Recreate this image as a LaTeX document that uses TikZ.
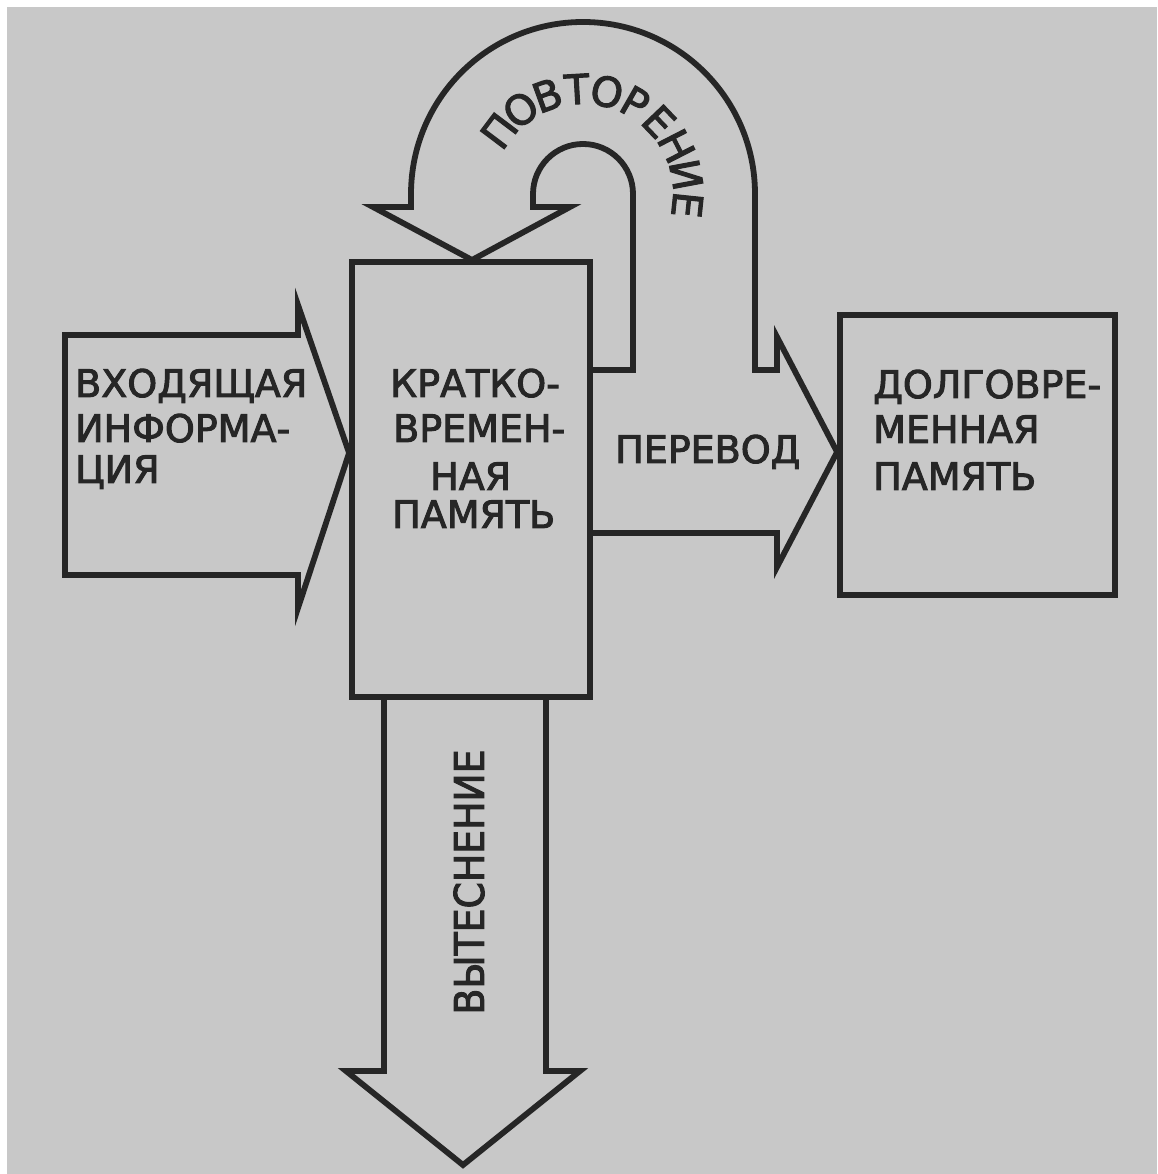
\documentclass[tikz,border=0pt]{standalone}
\usepackage{fontspec}
\setmainfont{DejaVu Sans}
\newfontfamily\lblfont{DejaVu Sans}[FakeBold=2.5]
\newfontfamily\narrowlblfont{DejaVu Sans}[FakeBold=2.5, FakeStretch=0.92]
\usetikzlibrary{calc}
\definecolor{paper}{RGB}{200,200,200}
\definecolor{ink}{RGB}{38,38,38}
\tikzset{
  outline/.style={draw=ink, line width=5.8pt, line join=miter},
  memorybox/.style={outline, rectangle, inner sep=0pt},
  label/.style={text=ink, inner sep=0pt, font=\lblfont\fontsize{38}{38}\selectfont},
  biglabel/.style={text=ink, inner sep=0pt, font=\narrowlblfont\fontsize{41}{41}\selectfont},
  arclabel/.style={text=ink, inner sep=0pt, font=\lblfont\fontsize{41}{41}\selectfont},
}
\begin{document}
\begin{tikzpicture}[x=1pt,y=1pt]
\useasboundingbox (0,0) rectangle (1157,1174);
\fill[white] (0,0) rectangle (1157,1174);
\fill[paper] (7,0) rectangle (1157,1167);

% boxes
\node[memorybox, minimum width=238pt, minimum height=435pt] (stm) at (471,694.5) {};
\node[memorybox, minimum width=275pt, minimum height=280pt] (ltm) at (977.5,719) {};

% incoming arrow
\coordinate (intip) at (stm.west |- 0,721);
\draw[outline] (65,839) -- (298,839) -- (298,869) -- (intip) -- (298,566) -- (298,599) -- (65,599) -- cycle;

% transfer arrow with rehearsal loop
\coordinate (trtip) at (ltm.west |- 0,722);
\coordinate (rehtip) at (472,914);
\draw[outline] (stm.east |- 0,641) -- (777,641) -- (777,607) -- (trtip) -- (777,837) -- (777,804) -- (755,804)
  -- (755,980) arc[start angle=0, end angle=180, radius=172] -- (411,967) -- (373,967) -- (rehtip)
  -- (570,967) -- (533,967) -- (533,980) arc[start angle=180, end angle=0, radius=50]
  -- (633,804) -- (stm.east |- 0,804);

% displacement arrow
\coordinate (dtip) at (463,9);
\draw[outline] (384,0 |- stm.south) -- (384,103) -- (346,103) -- (dtip) -- (580,103) -- (546,103) -- (546,0 |- stm.south);

% texts
\node[label, anchor=base west] (in1) at (75,777) {ВХОДЯЩАЯ};
\node[label, anchor=base west] (in2) at (75,732) {ИНФОРМА-};
\node[label, anchor=base west] (in3) at (75,691) {ЦИЯ};

\node[label, anchor=base west] (st1) at (390,777) {КРАТКО-};
\node[label, anchor=base west] (st2) at (393,732) {ВРЕМЕН-};
\node[label, anchor=base west] (st3) at (430,684) {НАЯ};
\node[label, anchor=base west] (st4) at (392,646) {ПАМЯТЬ};

\node[label, anchor=base west] (lt1) at (873,776) {ДОЛГОВРЕ-};
\node[label, anchor=base west] (lt2) at (873,731) {МЕННАЯ};
\node[label, anchor=base west] (lt3) at (873,684) {ПАМЯТЬ};

\node[label, anchor=base west] (tr) at (615,711) {ПЕРЕВОД};

\node[biglabel, rotate=90] (disp) at (469,292) {ВЫТЕСНЕНИЕ};

\coordinate (loopc) at (583,980);
\foreach \ch [count=\i from 0] in {П,О,В,Т,О,Р,Е,Н,И,Е} {
  \pgfmathsetmacro{\ang}{143-\i*16.55}
  \node[arclabel, rotate=\ang-90] (rep\i) at ($(loopc)+(\ang:105)$) {\ch};
}
\end{tikzpicture}
\end{document}
